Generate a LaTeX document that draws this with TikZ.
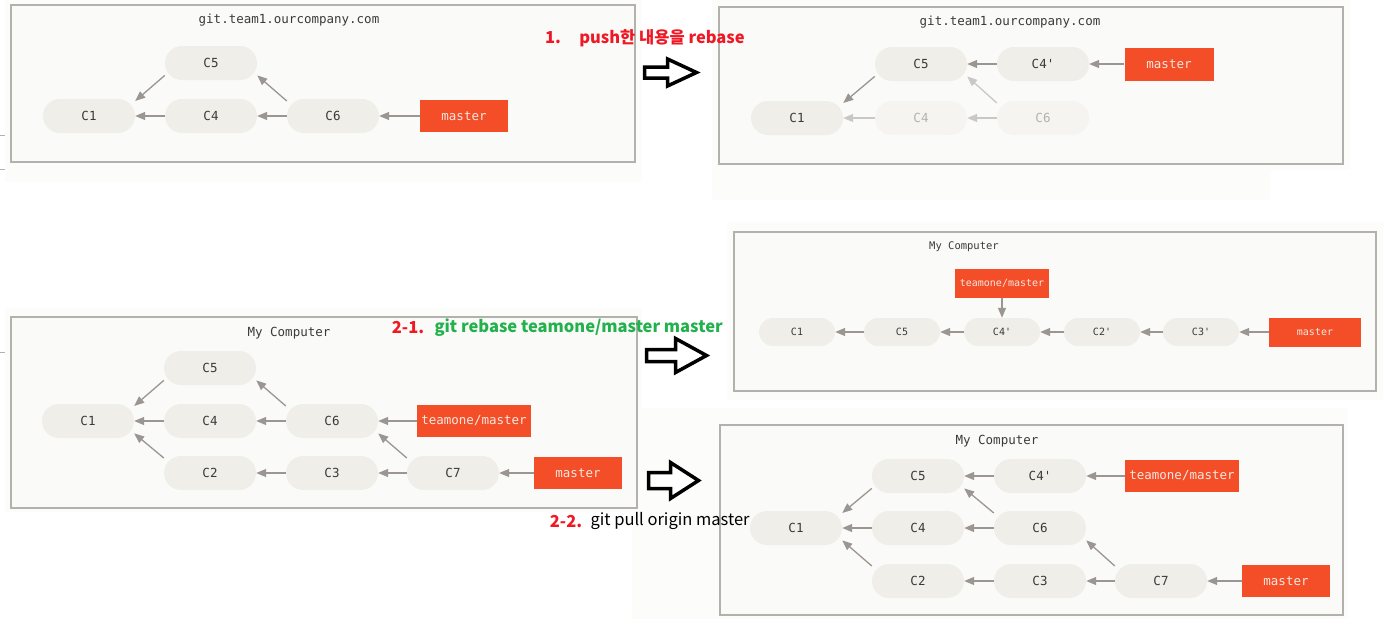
\documentclass[tikz,border=0pt]{standalone}
\usepackage{fontspec}
\setmonofont{DejaVu Sans Mono}
\newfontfamily\kofont{Noto Sans CJK KR}
\usetikzlibrary{calc}
\usetikzlibrary{positioning}
\usetikzlibrary{arrows.meta}
\tikzset{every node/.style={font=\ttfamily}}

\definecolor{commitfill}{RGB}{239,238,233}
\definecolor{committext}{RGB}{58,58,56}
\definecolor{ghostfill}{RGB}{245,244,240}
\definecolor{ghosttext}{RGB}{178,178,175}
\definecolor{linkgray}{RGB}{155,150,145}
\definecolor{ghostline}{RGB}{202,200,196}
\definecolor{branchred}{RGB}{244,78,41}
\definecolor{branchtext}{RGB}{247,232,224}
\definecolor{panelfill}{RGB}{250,250,248}
\definecolor{panelline}{RGB}{180,177,172}
\definecolor{bgfill}{RGB}{252,252,251}
\definecolor{notered}{RGB}{240,24,36}
\definecolor{notegreen}{RGB}{34,177,76}

\tikzset{
  commit/.style={rectangle, rounded corners=17pt, fill=commitfill, text=committext,
    minimum width=92pt, minimum height=34pt, inner sep=0pt,
    font=\ttfamily\fontsize{12.5}{14}\selectfont},
  ghost/.style={commit, fill=ghostfill, text=ghosttext},
  smallcommit/.style={commit, rounded corners=14pt, minimum width=76pt, minimum height=28pt,
    font=\ttfamily\fontsize{10}{12}\selectfont},
  branch/.style={rectangle, fill=branchred, text=branchtext, minimum width=88pt,
    minimum height=32pt, inner sep=0pt, font=\ttfamily\fontsize{12.5}{14}\selectfont},
  smallbranch/.style={branch, minimum height=29pt, font=\ttfamily\fontsize{10}{12}\selectfont},
  title/.style={text=committext, inner sep=0pt, font=\ttfamily\fontsize{12.5}{14}\selectfont},
  smalltitle/.style={title, font=\ttfamily\fontsize{10.5}{12}\selectfont},
  link/.style={draw=linkgray, line width=1.3pt, -{Triangle[length=10pt,width=8pt]}},
  ghostlink/.style={link, draw=ghostline},
  panel/.style={fill=panelfill, draw=panelline, line width=1.3pt},
  note/.style={inner sep=0pt, font=\kofont\bfseries\fontsize{16.5}{19}\selectfont},
}

% start, length, head length, shaft half, head half
\newcommand{\blockarrow}[5]{%
  \draw[line width=3.5pt, line join=miter, black, fill=white]
    ($(#1)+(0,-#4)$) -- ++(#2-#3,0) -- ++(0,#4-#5) -- ($(#1)+(#2,0)$)
    -- ($(#1)+(#2-#3,#5)$) -- ++(0,#4-#5) -- ($(#1)+(0,#4)$) -- cycle;}

\begin{document}
\begin{tikzpicture}[x=1pt, y=-1pt]
\useasboundingbox (0,0) rectangle (1383,619);

\def\gx{122}
\def\gy{53}

% light backgrounds
\fill[bgfill] (5,0) rectangle (642,182);
\fill[bgfill] (5,308) rectangle (642,512);
\fill[bgfill] (712,0) rectangle (1350,170);
\fill[bgfill] (712,170) rectangle (1270,200);
\fill[bgfill] (727,222) rectangle (1383,400);
\fill[bgfill] (632,408) rectangle (1348,619);

\draw[panelline, line width=1pt] (0,135) -- (5,135);
\draw[panelline, line width=1pt] (0,169) -- (5,169);
\draw[panelline, line width=1pt] (0,352) -- (5,352);

%%%%%%%%%%%%%%%%%%%%%%%%%%%%%%%%%%%%%%%%%%%%%%%%%%%%%%%%%%%%%%%%%%%%%%%%
% git.team1 (before)
\draw[panel] (11,5) rectangle (635,162);
\node[title] (aT) at (289,20) {git.team1.ourcompany.com};

\coordinate (PS) at (89,116);

\node[commit] (aC1) at (PS) {C1};
\node[commit] (aC4) at ($(PS)+(\gx,0)$) {C4};
\node[commit] (aC6) at ($(PS)+(2*\gx,0)$) {C6};
\node[commit] (aC5) at ($(PS)+(\gx,-\gy)$) {C5};
\node[branch] (aM) at ($(PS)+(375,0)$) {master};

\draw[link] (aC4) -- (aC1);
\draw[link] (aC5.195) -- (aC1.18);
\draw[link] (aC6) -- (aC4);
\draw[link] (aC6.162) -- (aC5.-15);
\draw[link] (aM) -- (aC6);

%%%%%%%%%%%%%%%%%%%%%%%%%%%%%%%%%%%%%%%%%%%%%%%%%%%%%%%%%%%%%%%%%%%%%%%%
% git.team1 (after)
\draw[panel] (719,7) rectangle (1343,164);
\node[title] (bT) at (1010,22) {git.team1.ourcompany.com};

\coordinate (PS) at (797,118);

\node[commit] (bC1) at (PS) {C1};
\node[ghost] (bC4) at ($(PS)+(\gx+2,0)$) {C4};
\node[ghost] (bC6) at ($(PS)+(2*\gx+2,0)$) {C6};
\node[commit] (bC5) at ($(PS)+(\gx+2,-54)$) {C5};
\node[commit] (bC4p) at ($(PS)+(2*\gx+2,-54)$) {C4'};
\node[branch, minimum width=89pt, minimum height=33pt] (bM) at ($(PS)+(372,-54)$) {master};

\draw[ghostlink] (bC4) -- (bC1);
\draw[ghostlink] (bC6) -- (bC4);
\draw[ghostlink] (bC6.162) -- (bC5.-15);
\draw[link] (bC5.195) -- (bC1.18);
\draw[link] (bC4p) -- (bC5);
\draw[link] (bM) -- (bC4p);

%%%%%%%%%%%%%%%%%%%%%%%%%%%%%%%%%%%%%%%%%%%%%%%%%%%%%%%%%%%%%%%%%%%%%%%%
% My Computer (before)
\draw[panel] (11,317) rectangle (637,508);
\node[title] (dT) at (289,333) {My Computer};

\coordinate (PS) at (88,421);

\node[commit] (dC1) at (PS) {C1};
\node[commit] (dC4) at ($(PS)+(\gx,0)$) {C4};
\node[commit] (dC6) at ($(PS)+(2*\gx,0)$) {C6};
\node[commit] (dC5) at ($(PS)+(\gx,-\gy)$) {C5};
\node[commit] (dC2) at ($(PS)+(\gx,52)$) {C2};
\node[commit] (dC3) at ($(PS)+(2*\gx,52)$) {C3};
\node[commit] (dC7) at ($(PS)+(3*\gx-1,52)$) {C7};
\node[branch, minimum width=114pt] (dTM) at ($(PS)+(386,0)$) {teamone/master};
\node[branch] (dM) at ($(PS)+(490,52)$) {master};

\draw[link] (dC4) -- (dC1);
\draw[link] (dC5.195) -- (dC1.18);
\draw[link] (dC2.162) -- (dC1.-15);
\draw[link] (dC6) -- (dC4);
\draw[link] (dC6.162) -- (dC5.-15);
\draw[link] (dTM) -- (dC6);
\draw[link] (dC3) -- (dC2);
\draw[link] (dC7) -- (dC3);
\draw[link] (dC7.162) -- (dC6.-15);
\draw[link] (dM) -- (dC7);

%%%%%%%%%%%%%%%%%%%%%%%%%%%%%%%%%%%%%%%%%%%%%%%%%%%%%%%%%%%%%%%%%%%%%%%%
% My Computer (2-1)
\draw[panel] (734,232) rectangle (1376,391);
\node[smalltitle] (cT) at (964,247) {My Computer};

\coordinate (PS) at (797,332);

\node[smallcommit] (cC1) at (PS) {C1};
\node[smallcommit] (cC5) at ($(PS)+(105,0)$) {C5};
\node[smallcommit] (cC4p) at ($(PS)+(205,0)$) {C4'};
\node[smallcommit] (cC2p) at ($(PS)+(305,0)$) {C2'};
\node[smallcommit] (cC3p) at ($(PS)+(404,0)$) {C3'};
\node[smallbranch, minimum width=94pt] (cTM) at ($(PS)+(205,-49)$) {teamone/master};
\node[smallbranch, minimum width=92pt] (cM) at ($(PS)+(518,0)$) {master};

\draw[link] (cC5) -- (cC1);
\draw[link] (cC4p) -- (cC5);
\draw[link] (cC2p) -- (cC4p);
\draw[link] (cC3p) -- (cC2p);
\draw[link] (cM) -- (cC3p);
\draw[link] (cTM) -- (cC4p);

%%%%%%%%%%%%%%%%%%%%%%%%%%%%%%%%%%%%%%%%%%%%%%%%%%%%%%%%%%%%%%%%%%%%%%%%
% My Computer (2-2)
\draw[panel] (720,425) rectangle (1343,615);
\node[title] (eT) at (997,441) {My Computer};

\coordinate (PS) at (796,528);

\node[commit] (eC1) at (PS) {C1};
\node[commit] (eC4) at ($(PS)+(\gx,0)$) {C4};
\node[commit] (eC6) at ($(PS)+(2*\gx,0)$) {C6};
\node[commit] (eC5) at ($(PS)+(\gx,-52)$) {C5};
\node[commit] (eC4p) at ($(PS)+(2*\gx,-52)$) {C4'};
\node[commit] (eC2) at ($(PS)+(\gx,\gy)$) {C2};
\node[commit] (eC3) at ($(PS)+(2*\gx,\gy)$) {C3};
\node[commit] (eC7) at ($(PS)+(3*\gx-1,\gy)$) {C7};
\node[branch, minimum width=114pt] (eTM) at ($(PS)+(386,-52)$) {teamone/master};
\node[branch] (eM) at ($(PS)+(490,\gy)$) {master};

\draw[link] (eC4) -- (eC1);
\draw[link] (eC5.195) -- (eC1.18);
\draw[link] (eC2.162) -- (eC1.-15);
\draw[link] (eC4p) -- (eC5);
\draw[link] (eTM) -- (eC4p);
\draw[link] (eC6) -- (eC4);
\draw[link] (eC6.162) -- (eC5.-15);
\draw[link] (eC3) -- (eC2);
\draw[link] (eC7) -- (eC3);
\draw[link] (eC7.162) -- (eC6.-15);
\draw[link] (eM) -- (eC7);

%%%%%%%%%%%%%%%%%%%%%%%%%%%%%%%%%%%%%%%%%%%%%%%%%%%%%%%%%%%%%%%%%%%%%%%%
% steps

\coordinate (A1) at (644.5,72.5);
\coordinate (A2) at (646.5,355.5);
\coordinate (A3) at (648.5,480.5);
\blockarrow{A1}{52}{29}{5.5}{13.5}
\blockarrow{A2}{60}{31}{6}{17}
\blockarrow{A3}{50}{28}{8}{18}

\node[note, text=notered] (n1) at (553,38) {1.};
\node[note, text=notered, right=18pt of n1] (t1) {push한 내용을 rebase};

\node[note, text=notered] (n21) at (408,328) {2-1.};
\node[note, text=notegreen, right=10pt of n21] (t21) {git rebase teamone/master master};

\node[note, text=notered] (n22) at (566,521) {2-2.};
\node[note, text=black, font=\kofont\fontsize{16.5}{19}\selectfont, right=8pt of n22] (t22) {git pull origin master};

\end{tikzpicture}
\end{document}
